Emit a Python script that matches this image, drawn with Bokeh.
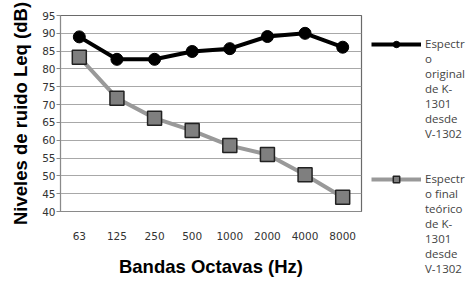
from bokeh.plotting import figure
from bokeh.models import Legend, LegendItem, FixedTicker
from bokeh.embed import file_html
from bokeh.resources import INLINE

bands = ["63", "125", "250", "500", "1000", "2000", "4000", "8000"]
original = [89.0, 82.7, 82.7, 84.9, 85.7, 89.1, 90.0, 86.1]
final = [83.3, 71.8, 66.2, 62.7, 58.5, 56.0, 50.3, 44.0]
lines_original = ["Espectr", "o", "original", "de K-", "1301", "desde", "V-1302"]
lines_final = ["Espectr", "o final", "teórico", "de K-", "1301", "desde", "V-1302"]
y_ticks = list(range(40, 96, 5))

# Bokeh centres a legend glyph on its (multi-line) label, so the wrapped text
# column is split between the two entries to keep each glyph on its first line.
column = lines_original + [" ", " "] + lines_final
label_a = "\n".join([" ", " "] + column[:3])
label_b = "\n".join(column[3:])

p = figure(x_range=bands, y_range=(40, 95), frame_width=301, frame_height=196,
           min_border_left=60, min_border_right=104, min_border_top=15, min_border_bottom=65,
           output_backend="svg", toolbar_location=None)
p.outline_line_color = "#6a6a6a"
p.outline_line_width = 1.2
p.background_fill_color = "white"

l1 = p.line(bands, original, line_color="black", line_width=4)
s1 = p.scatter(bands, original, size=12, marker="circle", fill_color="black", line_color="black")
l2 = p.line(bands, final, line_color="#999999", line_width=4)
s2 = p.scatter(bands, final, size=14, marker="square", fill_color="#7f7f7f", line_color="#222222", line_width=1.5)

p.xgrid.grid_line_color = None
p.ygrid.grid_line_color = "#a8a8a8"
p.ygrid.grid_line_width = 1
p.yaxis.ticker = FixedTicker(ticks=y_ticks)

for ax in (p.xaxis[0], p.yaxis[0]):
    ax.axis_line_color = "#8a8a8a"
    ax.major_label_text_font = "DejaVu Sans"
    ax.major_label_text_font_size = "10.5px"
    ax.major_label_text_color = "#333333"
    ax.axis_label_text_font = "Liberation Sans"
    ax.axis_label_text_font_style = "bold"
    ax.axis_label_text_font_size = "18.5px"
    ax.axis_label_text_color = "black"
    ax.minor_tick_line_color = None

p.xaxis.axis_label = "Bandas Octavas (Hz)"
p.yaxis.axis_label = "Niveles de ruido Leq (dB)"
p.xaxis.major_tick_line_color = None
p.xaxis.major_label_standoff = 14
p.xaxis.axis_label_standoff = 13
p.yaxis.major_tick_line_color = "#8a8a8a"
p.yaxis.major_tick_out = 4
p.yaxis.major_tick_in = 0
p.yaxis.major_label_standoff = 1
p.yaxis.axis_label_standoff = 8

legend = Legend(items=[LegendItem(label=label_a, renderers=[l1, s1]),
                       LegendItem(label=label_b, renderers=[l2, s2])],
                orientation="vertical", glyph_width=50, glyph_height=16, label_standoff=4,
                label_text_font="Open Sans", label_text_font_size="11.5px",
                label_text_line_height=1.35, padding=0, margin=0, spacing=0,
                location=(10, -65),
                border_line_color=None, background_fill_alpha=0)
p.add_layout(legend, "right")

open("out.html", "w").write(file_html(p, INLINE))
